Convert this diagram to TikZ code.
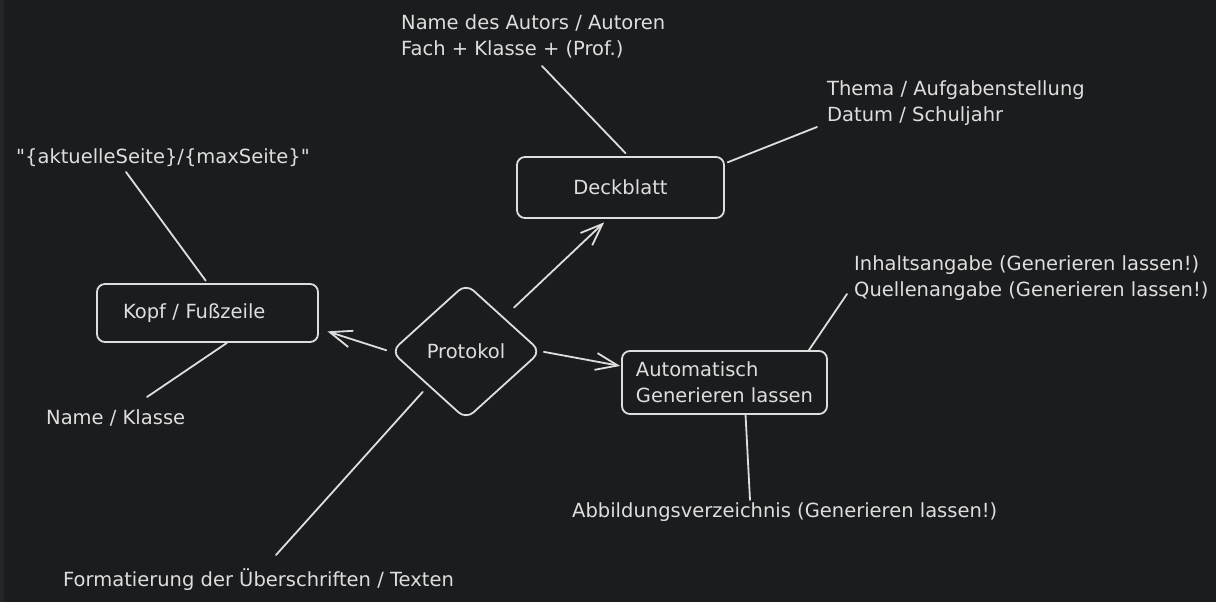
\documentclass[tikz,border=0pt]{standalone}
\usepackage{fontspec}
\setmainfont{DejaVu Sans}[Ligatures=TeXOff]
\usetikzlibrary{arrows.meta}
\usetikzlibrary{shapes.geometric}

\definecolor{chalk}{HTML}{DEDEDE}
\definecolor{board}{HTML}{1B1C1E}
\definecolor{boardedge}{HTML}{242527}

\begin{document}
\begin{tikzpicture}[x=1pt,y=-1pt,
    every node/.style={text=chalk,font=\fontsize{19.5}{26}\selectfont},
    box/.style={draw=chalk,line width=1.8pt,rounded corners=8pt,rectangle},
    note/.style={anchor=west,align=left,inner sep=0pt},
    link/.style={draw=chalk,line width=1.8pt,line cap=round},
    tip/.style={-{Straight Barb[length=22pt,width=17pt]}}]

  \useasboundingbox (0,0) rectangle (1216,602);
  \fill [board] (0,0) rectangle (1216,602);
  \fill [boardedge] (0,0) rectangle (4,602);

  \node [box,minimum width=207pt,minimum height=61pt] (deck) at (620.5,187.5) {Deckblatt};
  \node [box,align=left,text width=169pt,minimum width=221pt,minimum height=58pt] (kopf) at (207.5,313) {Kopf / Fußzeile};
  \node [box,align=left,minimum width=205pt,minimum height=63pt] (auto) at (724.5,382.5) {Automatisch\\Generieren lassen};
  \node [draw=chalk,line width=1.8pt,diamond,rounded corners=10pt,minimum width=150pt,minimum height=136pt,inner sep=0pt] (prot) at (466,351.5) {Protokol};

  \node [note] (autor) at (401,36.5) {Name des Autors / Autoren\\Fach + Klasse + (Prof.)};
  \node [note] (thema) at (827,103.5) {Thema / Aufgabenstellung\\Datum / Schuljahr};
  \node [note] (seite) at (16,158) {"\{aktuelleSeite\}/\{maxSeite\}"};
  \node [note] (name) at (46,418) {Name / Klasse};
  \node [note] (fmt) at (63,580) {Formatierung der Überschriften / Texten};
  \node [note] (abb) at (572,512) {Abbildungsverzeichnis (Generieren lassen!)};
  \node [note] (inhalt) at (854,278.5) {Inhaltsangabe (Generieren lassen!)\\Quellenangabe (Generieren lassen!)};

  \coordinate (autor_foot) at (542,66);
  \coordinate (thema_foot) at (817,127);
  \coordinate (seite_foot) at (126,172);
  \coordinate (name_top) at (147,397);
  \coordinate (fmt_top) at (276,555);
  \coordinate (abb_top) at (750,500);
  \coordinate (inhalt_foot) at (847,294);

  \path [link]
    (deck.76)         edge [shorten <=4pt] (autor_foot)
    (deck.13)         edge [shorten <=3pt] (thema_foot)
    (kopf.north)      edge [shorten <=3pt] (seite_foot)
    (kopf.-57.5)      edge (name_top)
    (prot.south west) edge [shorten <=8pt] (fmt_top)
    (auto.-57)        edge (abb_top)
    (auto.21)         edge (inhalt_foot);

  \path [link]
    (prot.west)       edge [tip,shorten <=4pt,shorten >=9pt] (kopf.-8)
    (prot.north east) edge [tip,shorten <=14pt,shorten >=5pt] (deck.-112)
    (prot.east)       edge [tip,shorten <=2pt,shorten >=1pt] (auto.171);

\end{tikzpicture}
\end{document}
